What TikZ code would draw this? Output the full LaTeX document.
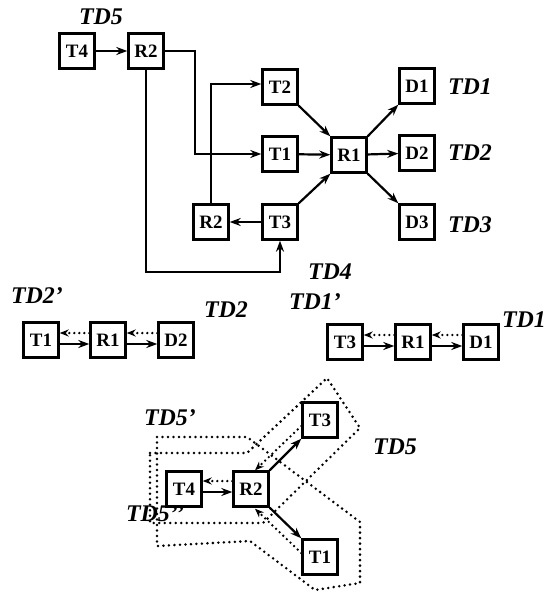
\documentclass[tikz,border=0pt]{standalone}
\usepackage{fontspec}
\setmainfont{Liberation Serif}
\usetikzlibrary{arrows.meta,calc}
\begin{document}
\begin{tikzpicture}[x=1bp,y=-1bp,
 box/.style={draw,line width=2.4bp,minimum width=35bp,minimum height=35bp,inner sep=0pt,font=\fontsize{19}{19}\selectfont\bfseries},
 lab/.style={font=\fontsize{24}{24}\selectfont\bfseries\itshape,inner sep=0pt},
 conn/.style={line width=2.2bp,-{Stealth[length=11bp,width=8bp]}},
 dotarr/.style={line width=2.6bp,line cap=round,dash pattern=on 0bp off 5bp,-{Stealth[length=9bp,width=7bp]}},
 dotline/.style={line width=2.8bp,line cap=round,dash pattern=on 0bp off 5.5bp},
]
\useasboundingbox (0,0) rectangle (558,593);

% ---------- top section ----------
\node[box] (T4) at (77,51) {T4};
\node[box] (R2a) at (146,51) {R2};
\node[box] (T2) at (280,87) {T2};
\node[box] (T1) at (280,154) {T1};
\node[box] (R1) at (349,155) {R1};
\node[box] (D1) at (417,86) {D1};
\node[box] (D2) at (417,153) {D2};
\node[box] (D3) at (417,222) {D3};
\node[box] (R2b) at (211,222) {R2};
\node[box] (T3) at (280,222) {T3};
\coordinate (b1) at (195,51);
\coordinate (b2) at (146,272);

\draw[conn] (T4) -- (R2a);
\draw[conn] (R2a.east) -- (b1) |- (T1.west);
\draw[conn] (R2b.north) |- ($(T2.west)+(0,-3)$);
\draw[conn] (R2a.south) -- (b2) -| (T3.south);
\draw[conn] (T3) -- (R2b);
\draw[conn] (T2.south east) -- (R1.north west);
\draw[conn] (T1) -- (R1);
\draw[conn] (T3.north east) -- (R1.south west);
\draw[conn] (R1.north east) -- (D1.south west);
\draw[conn] (R1) -- (D2);
\draw[conn] (R1.south east) -- (D3.north west);

\node[lab] (lTD5) at (101,17) {TD5};
\node[lab] (lTD1) at (470,87) {TD1};
\node[lab] (lTD2) at (470,153) {TD2};
\node[lab] (lTD3) at (470,225) {TD3};
\node[lab] (lTD4) at (330,272) {TD4};

% ---------- middle section ----------
\node[box] (mT1) at (41,340) {T1};
\node[box] (mR1) at (108,340) {R1};
\node[box] (mD2) at (176,340) {D2};
\draw[conn] ($(mT1.east)+(0,4)$) -- ($(mR1.west)+(0,4)$);
\draw[dotarr] ($(mR1.west)+(0,-7)$) -- ($(mT1.east)+(0,-7)$);
\draw[conn] ($(mR1.east)+(0,4)$) -- ($(mD2.west)+(0,4)$);
\draw[dotarr] ($(mD2.west)+(0,-7)$) -- ($(mR1.east)+(0,-7)$);

\node[box] (nT3) at (345,342) {T3};
\node[box] (nR1) at (413,342) {R1};
\node[box] (nD1) at (481,342) {D1};
\draw[conn] ($(nT3.east)+(0,4)$) -- ($(nR1.west)+(0,4)$);
\draw[dotarr] ($(nR1.west)+(0,-7)$) -- ($(nT3.east)+(0,-7)$);
\draw[conn] ($(nR1.east)+(0,4)$) -- ($(nD1.west)+(0,4)$);
\draw[dotarr] ($(nD1.west)+(0,-7)$) -- ($(nR1.east)+(0,-7)$);

\node[lab] (lTD2p) at (37,296) {TD2’};
\node[lab] (lTD2b) at (226,310) {TD2};
\node[lab] (lTD1p) at (315,302) {TD1’};
\node[lab] (lTD1b) at (524,320) {TD1};

% ---------- bottom section ----------
\draw[dotline] (157,437) -- (247,437) -- (360,522) -- (360,583) -- (315,590) -- (250,541) -- (157,546) -- cycle;
\draw[dotline] (150,453) -- (247,453) -- (327,378) -- (360,428) -- (263,523) -- (150,523) -- cycle;

\node[box] (bT3) at (320,420) {T3};
\node[box] (bT4) at (184,489) {T4};
\node[box] (bR2) at (251,489) {R2};
\node[box] (bT1) at (320,557) {T1};

\draw[conn] ($(bT4.east)+(0,3)$) -- ($(bR2.west)+(0,3)$);
\draw[dotarr] ($(bR2.west)+(0,-8)$) -- ($(bT4.east)+(0,-8)$);
\draw[conn] (bR2.north east) -- (bT3.south west);
\draw[dotarr] ($(bT3.west)+(0,6)$) -- ($(bR2.north)+(4,0)$);
\draw[conn] (bR2.south east) -- (bT1.north west);
\draw[dotarr] ($(bT1.west)+(0,-4)$) -- ($(bR2.south)+(4,1)$);

\node[lab] (lTD5p) at (170,418) {TD5’};
\node[lab] (lTD5pp) at (155,514) {TD5’’};
\node[lab] (lTD5b) at (395,447) {TD5};
\end{tikzpicture}
\end{document}
